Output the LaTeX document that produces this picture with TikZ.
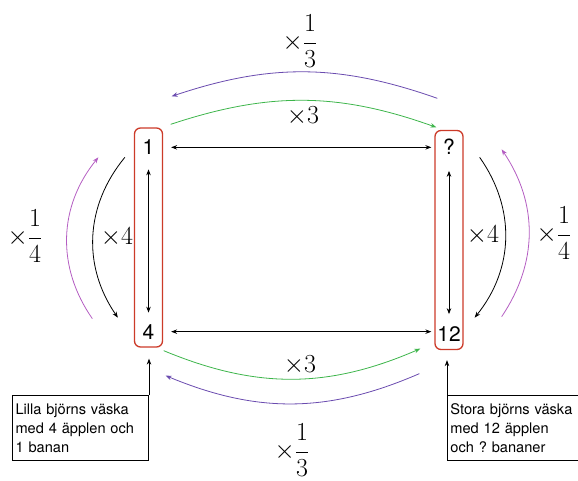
\RequirePackage{fix-cm}
\documentclass[tikz,border=0pt]{standalone}
\usepackage{fontspec}
\setsansfont{TeX Gyre Heros}
\usepackage{tikz}
\usetikzlibrary{arrows.meta, positioning, calc}
\definecolor{bagred}{HTML}{CC3B29}
\definecolor{timesgreen}{HTML}{3DB54B}
\definecolor{thirdpurple}{HTML}{6A4BAF}
\definecolor{quartermagenta}{HTML}{B45DC2}
\frenchspacing

\begin{document}
\begin{tikzpicture}[x=1pt, y=-1pt,
      bag/.style={rectangle, draw=bagred, line width=1.3pt, rounded corners=6pt, minimum width=28pt, minimum height=219pt},
      num/.style={font=\sffamily\fontsize{21}{21}\selectfont, inner sep=1pt},
      note/.style={rectangle, draw=black, line width=0.9pt, text width=130pt, minimum height=65pt, align=left, inner xsep=3pt, inner ysep=0pt, font=\sffamily\fontsize{14.6}{19}\selectfont},
      factor/.style={font=\fontsize{26}{30}\selectfont},
      link/.style={line width=0.8pt, >={Stealth[length=6pt, width=4.5pt]}}
    ]
      \useasboundingbox (0,0) rectangle (578,481);

      % the two bags
      \node[bag] (lbag) at (148.5,237.5) {};
      \node[bag] (rbag) at (449,240) {};
      \node[num] (l1) at ([yshift=-20pt]lbag.north) {1};
      \node[num] (l4) at ([yshift=16pt]lbag.south) {4};
      \node[num] (rq) at ([yshift=-17pt]rbag.north) {?};
      \node[num] (r12) at ([yshift=16pt]rbag.south) {12};

      \draw[link, <->] ([xshift=8pt]lbag.east |- l1) -- ([xshift=-3pt]rbag.west |- l1);
      \draw[link, <->] ([xshift=8pt]lbag.east |- l4) -- ([xshift=-3pt]rbag.west |- l4);
      \draw[link, <->] ([yshift=-42pt]lbag.north) -- ([yshift=35pt]lbag.south);
      \draw[link, <->] ([yshift=-41pt]rbag.north) -- ([yshift=36pt]rbag.south);

      % factors inside each bag
      \draw[link, ->] ([shift={(-9pt,-30pt)}]lbag.north west) to[bend right=37] ([shift={(-16pt,30pt)}]lbag.south west);
      \draw[link, ->, quartermagenta] ([shift={(-41.5pt,29pt)}]lbag.south west) to[bend left=37] ([shift={(-35.5pt,-30pt)}]lbag.north west);
      \draw[link, ->] ([shift={(16pt,-27.5pt)}]rbag.north east) to[bend left=37] ([shift={(11pt,32.5pt)}]rbag.south east);
      \draw[link, ->, quartermagenta] ([shift={(38pt,33.5pt)}]rbag.south east) to[bend right=34] ([shift={(38pt,-19.5pt)}]rbag.north east);

      % factors between the bags
      \draw[link, ->, thirdpurple] ([shift={(3pt,31.5pt)}]rbag.north west) to[bend right=19] ([shift={(8.5pt,31pt)}]lbag.north east);
      \draw[link, ->, timesgreen] ([shift={(7.5pt,3pt)}]lbag.north east) to[bend left=19] ([shift={(2pt,2.5pt)}]rbag.north west);
      \draw[link, ->, timesgreen] ([shift={(0.5pt,-3pt)}]lbag.south east) to[bend right=23] ([shift={(-14pt,1.5pt)}]rbag.south west);
      \draw[link, ->, thirdpurple] ([shift={(-15pt,-23.5pt)}]rbag.south west) to[bend left=23] ([shift={(2.5pt,-28pt)}]lbag.south east);

      \node[factor] (topthird) at (300,41) {$\displaystyle\times\frac{1}{3}$};
      \node[factor] (topthree) at (303,116) {$\times3$};
      \node[factor] (botthree) at (300,365) {$\times3$};
      \node[factor] (botthird) at (292,450) {$\displaystyle\times\frac{1}{3}$};
      \node[factor] (lquarter) at (25,236) {$\displaystyle\times\frac{1}{4}$};
      \node[factor] (lfour) at (117,237) {$\times4$};
      \node[factor] (rfour) at (483,235) {$\times4$};
      \node[factor] (rquarter) at (554,233) {$\displaystyle\times\frac{1}{4}$};

      % the notes
      \node[note, anchor=north east] (lnote) at (149,395) {Lilla björns väska\\med 4 äpplen och\\1 banan};
      \node[note, anchor=north west] (rnote) at (447,395) {Stora björns väska\\med 12 äpplen\\och ? bananer};
      \draw[link, ->, shorten >=11pt] (lnote.north east) -- (lnote.north east |- lbag.south);
      \draw[link, ->, shorten >=10pt] (rnote.north west) -- (rnote.north west |- rbag.south);
    \end{tikzpicture}
\end{document}
